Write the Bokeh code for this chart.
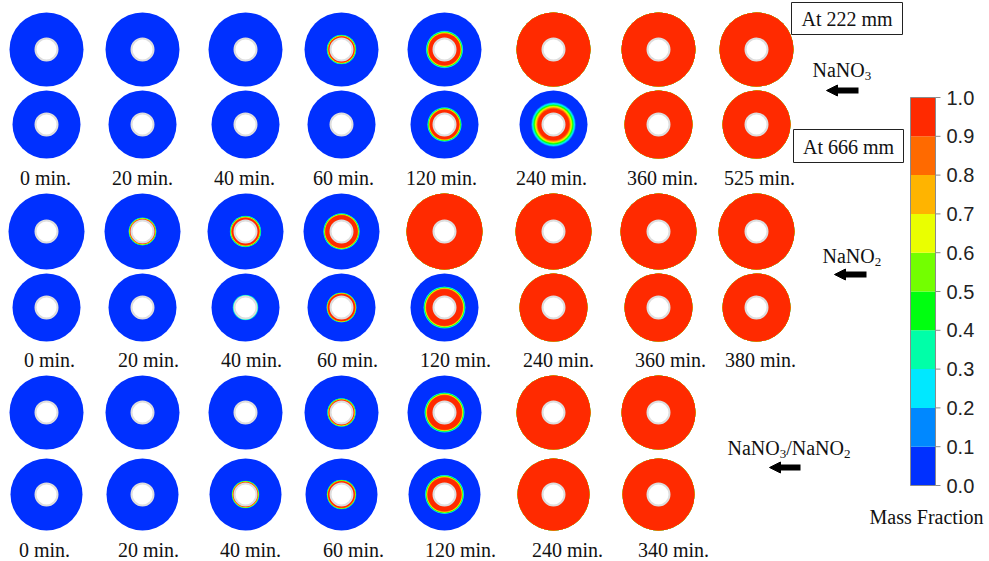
from bokeh.plotting import figure
from bokeh.models import Range1d, Arrow, NormalHead, ColumnDataSource
from bokeh.embed import file_html
from bokeh.resources import INLINE
from bokeh.core.properties import value

# ---------------------------------------------------------------- data
LEVELS = [0.0, 0.1, 0.2, 0.3, 0.4, 0.5, 0.6, 0.7, 0.8, 0.9, 1.0]
BAND_COLORS = ["#0030ff", "#0088ff", "#00e8ff", "#00ffa8", "#00ff10",
               "#73ff00", "#eaff00", "#ffb400", "#ff6a00", "#ff2a00"]

NANO3_TIMES = ["0 min.", "20 min.", "40 min.", "60 min.", "120 min.", "240 min.", "360 min.", "525 min."]
NANO2_TIMES = ["0 min.", "20 min.", "40 min.", "60 min.", "120 min.", "240 min.", "360 min.", "380 min."]
MIX_TIMES = ["0 min.", "20 min.", "40 min.", "60 min.", "120 min.", "240 min.", "340 min."]

# peak liquid mass fraction at the tube wall
NANO3_222_WALL = [0, 0, 0, 1, 1, 1, 1, 1]
NANO3_666_WALL = [0, 0, 0, 0, 1, 1, 1, 1]
NANO2_222_WALL = [0, 1, 1, 1, 1, 1, 1, 1]
NANO2_666_WALL = [0, 0, 0.4, 1, 1, 1, 1, 1]
MIX_222_WALL = [0, 0, 0, 1, 1, 1, 1]
MIX_666_WALL = [0, 0, 1, 1, 1, 1, 1]

# extent of the fully molten layer, as a fraction of the wall-to-shell gap
NANO3_222_LIQUID = [0, 0, 0, 0.03, 0.14, 1, 1, 1]
NANO3_666_LIQUID = [0, 0, 0, 0, 0.11, 0.14, 1, 1]
NANO2_222_LIQUID = [0, 0.01, 0.06, 0.15, 1, 1, 1, 1]
NANO2_666_LIQUID = [0, 0, 0, 0.07, 0.27, 1, 1, 1]
MIX_222_LIQUID = [0, 0, 0, 0.02, 0.20, 1, 1]
MIX_666_LIQUID = [0, 0, 0.01, 0.05, 0.19, 1, 1]

# outer edge of the mushy zone, as a fraction of the wall-to-shell gap
NANO3_222_FRONT = [0, 0, 0, 0.12, 0.28, 1, 1, 1]
NANO3_666_FRONT = [0, 0, 0, 0, 0.25, 0.50, 1, 1]
NANO2_222_FRONT = [0, 0.08, 0.15, 0.25, 1, 1, 1, 1]
NANO2_666_FRONT = [0, 0, 0.05, 0.14, 0.43, 1, 1, 1]
MIX_222_FRONT = [0, 0, 0, 0.10, 0.34, 1, 1]
MIX_666_FRONT = [0, 0, 0.08, 0.12, 0.33, 1, 1]

CASES = [
    (NANO3_TIMES,
     [(NANO3_222_WALL, NANO3_222_LIQUID, NANO3_222_FRONT),
      (NANO3_666_WALL, NANO3_666_LIQUID, NANO3_666_FRONT)]),
    (NANO2_TIMES,
     [(NANO2_222_WALL, NANO2_222_LIQUID, NANO2_222_FRONT),
      (NANO2_666_WALL, NANO2_666_LIQUID, NANO2_666_FRONT)]),
    (MIX_TIMES,
     [(MIX_222_WALL, MIX_222_LIQUID, MIX_222_FRONT),
      (MIX_666_WALL, MIX_666_LIQUID, MIX_666_FRONT)]),
]

# ---------------------------------------------------------------- layout
COL_X = [46, 142, 245, 341, 444, 553, 658, 756]
ROW_Y = [(49, 124), (231, 307), (412, 494)]
SHELL_R = [(37, 34), (38, 34), (37, 36)]
TUBE_R = 12
LABEL_Y = [177, 359, 549]
LABEL_X = [[45, 142, 244, 343, 441, 551, 662, 759],
           [49, 148, 251, 347, 455, 558, 670, 760],
           [44, 148, 250, 353, 460, 567, 673]]

SERIF = value("Liberation Serif")
SANS = value("Liberation Sans")

p = figure(width=989, height=561, x_range=Range1d(0, 989), y_range=Range1d(561, 0),
           output_backend="svg", toolbar_location=None, x_axis_type=None, y_axis_type=None,
           min_border=0, outline_line_color=None, background_fill_color="white",
           border_fill_color="white")
p.grid.visible = False


def level_radius(level, wall, liquid, front, r_out):
    """Radius at which the liquid fraction drops to `level`."""
    s = liquid + (1.0 - level / wall) * (front - liquid)
    s = min(max(s, 0.0), 1.0)
    return TUBE_R + s * (r_out - TUBE_R)


rings = dict(x=[], y=[], r=[], color=[])
tubes = dict(x=[], y=[])
labels = dict(x=[], y=[], text=[])

for g, (times, rows) in enumerate(CASES):
    for row, (wall, liquid, front) in enumerate(rows):
        cy = ROW_Y[g][row]
        r_out = SHELL_R[g][row]
        for i in range(len(times)):
            cx = COL_X[i]
            # solid background disc
            rings["x"].append(cx)
            rings["y"].append(cy)
            rings["r"].append(r_out)
            rings["color"].append(BAND_COLORS[0])
            # filled contour bands, outermost first
            for k in range(1, 10):
                if wall[i] > LEVELS[k]:
                    rings["x"].append(cx)
                    rings["y"].append(cy)
                    rings["r"].append(level_radius(LEVELS[k], wall[i], liquid[i], front[i], r_out))
                    rings["color"].append(BAND_COLORS[k])
            tubes["x"].append(cx)
            tubes["y"].append(cy)
    for i, t in enumerate(times):
        labels["x"].append(LABEL_X[g][i])
        labels["y"].append(LABEL_Y[g])
        labels["text"].append(t)

p.circle(x="x", y="y", radius="r", fill_color="color", line_color=None,
         source=ColumnDataSource(rings))
p.circle(x="x", y="y", radius=TUBE_R - 1, fill_color="white", line_color="#dedede",
         line_width=2, source=ColumnDataSource(tubes))

p.text(x="x", y="y", text="text", source=ColumnDataSource(labels), text_font=SERIF,
       text_font_size="20px", text_align="center", text_baseline="middle", text_color="#111111")

# position boxes
p.quad(left=[791, 793], right=[902, 903], top=[2, 129], bottom=[34, 162],
       fill_color="white", line_color="#222222", line_width=1)
p.text(x=[846.5, 848], y=[18, 146], text=["At 222 mm", "At 666 mm"], text_font=SERIF,
       text_font_size="20px", text_align="center", text_baseline="middle", text_color="#111111")


# material names with subscripts
def chem(x, mid_y, parts):
    for txt, sub, w in parts:
        p.text(x=[x], y=[mid_y], text=[txt], text_font=SERIF, text_font_size="20px",
               text_align="left", text_baseline="middle", text_color="#111111")
        x += w
        if sub:
            p.text(x=[x], y=[mid_y + 6], text=[sub], text_font=SERIF, text_font_size="13px",
                   text_align="left", text_baseline="middle", text_color="#111111")
            x += 6.5


chem(812, 69, [("NaNO", "3", 52.2)])
chem(822, 255, [("NaNO", "2", 52.2)])
chem(727, 447, [("NaNO", "3", 52.2), ("/NaNO", "2", 57.8)])

for xs, xe, y in [(858, 826, 90), (866, 834, 274), (800, 769, 467)]:
    p.add_layout(Arrow(end=NormalHead(size=11, fill_color="black", line_color="black", line_width=1),
                       x_start=xs, y_start=y, x_end=xe, y_end=y,
                       line_width=6, line_color="black"))

# colour bar
CB_LEFT, CB_RIGHT, CB_TOP, CB_BOTTOM = 910, 935, 97, 485


def cb_y(v):
    return CB_BOTTOM - v * (CB_BOTTOM - CB_TOP)


p.quad(left=CB_LEFT, right=CB_RIGHT,
       bottom=[cb_y(v) for v in LEVELS[:-1]], top=[cb_y(v) for v in LEVELS[1:]],
       fill_color=BAND_COLORS, line_color=None)
p.quad(left=[CB_LEFT], right=[CB_RIGHT], bottom=[cb_y(0)], top=[cb_y(1)],
       fill_color=None, line_color="#8a8a8a", line_width=1)
p.segment(x0=CB_RIGHT, x1=CB_RIGHT + 5, y0=[cb_y(v) for v in LEVELS], y1=[cb_y(v) for v in LEVELS],
          line_color="#8a8a8a", line_width=1)
p.text(x=CB_RIGHT + 11, y=[cb_y(v) for v in LEVELS], text=["%.1f" % v for v in LEVELS],
       text_font=SANS, text_font_size="20px", text_align="left", text_baseline="middle",
       text_color="#222222")
p.text(x=[926], y=[516], text=["Mass Fraction"], text_font=SERIF, text_font_size="20px",
       text_align="center", text_baseline="middle", text_color="#111111")

open("out.html", "w").write(file_html(p, INLINE))
